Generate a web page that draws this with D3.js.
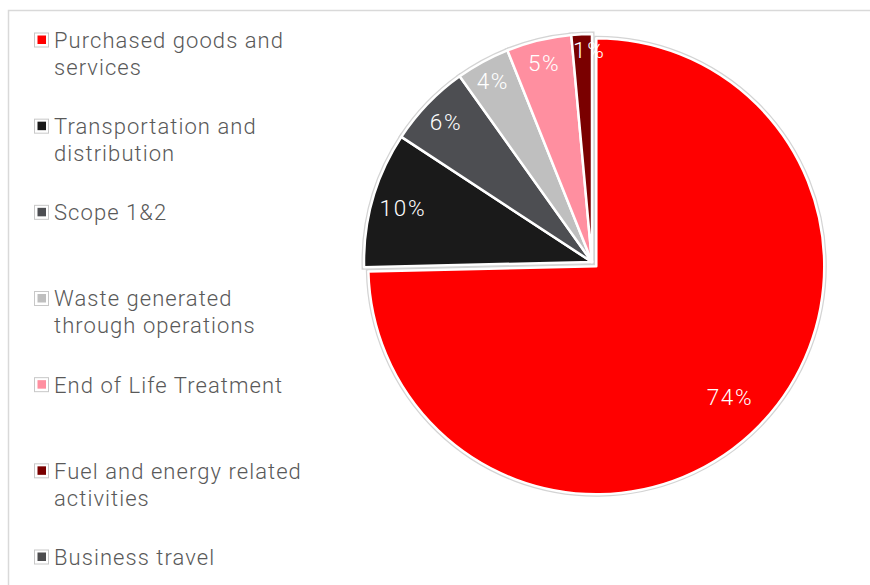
<!DOCTYPE html>
<html>
<head>
<meta charset="utf-8">
<script src="https://cdn.jsdelivr.net/npm/d3@7"></script>
<style>
  body { margin: 0; background: #fff; }
  text { font-family: Roboto, "Liberation Sans", sans-serif; font-weight: 300; }
</style>
</head>
<body>
<svg id="chart" width="870" height="585"></svg>
<script>
// categories, shares (%) and colours
// shares are estimated from the slice angles, labels are the printed percentages
var categories = [
    ["Purchased goods and", "services"],
    ["Transportation and", "distribution"],
    ["Scope 1&2"],
    ["Waste generated", "through operations"],
    ["End of Life Treatment"],
    ["Fuel and energy related", "activities"],
    ["Business travel"]
];
var values = [74.6, 9.6, 5.9, 3.8, 4.6, 1.45, 0];
var pctLabels = ["74%", "10%", "6%", "4%", "5%", "1%", ""];
var colors = ["#ff0000", "#1a1a1a", "#4d4e52", "#bfbfbf", "#ff8fa0", "#7a0000", "#4d4d4f"];

var svg = d3.select("#chart");

// letter spacing that makes a sample string as wide as in the picture
function fitSpacing(sample, targetWidth, size) {
    var t = svg.append("text").attr("font-size", size).text(sample);
    var w = t.node().getComputedTextLength();
    t.remove();
    return Math.max(0, (targetWidth - w) / (sample.length - 1));
}
var legendSize = 22, pctSize = 22.5;
var legendSpacing = fitSpacing("Purchased goods and", 229, legendSize);
var pctSpacing = fitSpacing("74%", 45, pctSize);

// chart frame
svg.append("rect")
    .attr("x", 8.5).attr("y", 10.5)
    .attr("width", 900).attr("height", 600)
    .attr("fill", "none")
    .attr("stroke", "#d9d9d9")
    .attr("stroke-width", 1.5);

var cx = 592, cy = 262, r = 228, explode = 6;

var pie = d3.pie().sort(null).value(function(d) { return d; });
var arcs = pie(values).filter(function(d) { return d.value > 0; });
var arc = d3.arc().innerRadius(0).outerRadius(r);

// shift for the pulled-out first slice
function offset(d) {
    if (d.index !== 0) return [0, 0];
    var a = (d.startAngle + d.endAngle) / 2;
    return [Math.sin(a) * explode, -Math.cos(a) * explode];
}

var g = svg.append("g").attr("transform", "translate(" + cx + "," + cy + ")");

// faint grey outline under the white slice borders
g.selectAll("path.under")
    .data(arcs)
    .join("path")
    .attr("class", "under")
    .attr("d", arc)
    .attr("transform", function(d) { return "translate(" + offset(d) + ")"; })
    .attr("fill", "none")
    .attr("stroke", "#d4d4d4")
    .attr("stroke-width", 5);

g.selectAll("path.slice")
    .data(arcs)
    .join("path")
    .attr("class", "slice")
    .attr("d", arc)
    .attr("transform", function(d) { return "translate(" + offset(d) + ")"; })
    .attr("fill", function(d) { return colors[d.index]; })
    .attr("stroke", "#fff")
    .attr("stroke-width", 2.5)
    .attr("stroke-linejoin", "round");

// label distance from the centre, as a share of the radius
var labelScale = d3.scaleLinear().domain([1.5, 5, 10, 74]).range([0.93, 0.895, 0.86, 0.82]).clamp(true);

g.selectAll("text.pct")
    .data(arcs)
    .join("text")
    .attr("class", "pct")
    .attr("transform", function(d) {
        var a = (d.startAngle + d.endAngle) / 2;
        var o = offset(d);
        var lr = r * labelScale(d.value);
        var x = Math.sin(a) * lr + o[0] + (d.value < 2 ? 7 : 0);
        return "translate(" + x + "," + (-Math.cos(a) * lr + o[1]) + ")";
    })
    .attr("text-anchor", "middle")
    .attr("dy", "0.36em")
    .attr("fill", "#fff")
    .attr("font-size", pctSize)
    .attr("letter-spacing", pctSpacing)
    .text(function(d) { return pctLabels[d.index]; });

// legend
var legendY = d3.scaleLinear().domain([0, 6]).range([40, 557]);

var items = svg.append("g").selectAll("g")
    .data(categories)
    .join("g")
    .attr("transform", function(d, i) { return "translate(0," + legendY(i) + ")"; });

items.append("rect")
    .attr("x", 34.5).attr("y", -7)
    .attr("width", 14).attr("height", 14)
    .attr("fill", "#fff")
    .attr("stroke", "#c8c8c8");

items.append("rect")
    .attr("x", 37.5).attr("y", -4.5)
    .attr("width", 8.5).attr("height", 8.5)
    .attr("fill", function(d, i) { return colors[i]; });

items.append("text")
    .attr("x", 54)
    .attr("fill", "#595959")
    .attr("font-size", legendSize)
    .attr("letter-spacing", legendSpacing)
    .selectAll("tspan")
    .data(function(d) { return d; })
    .join("tspan")
    .attr("x", 54)
    .attr("y", function(d, j) { return j * 27; })
    .attr("dy", "0.36em")
    .text(function(d) { return d; });
</script>
</body>
</html>
